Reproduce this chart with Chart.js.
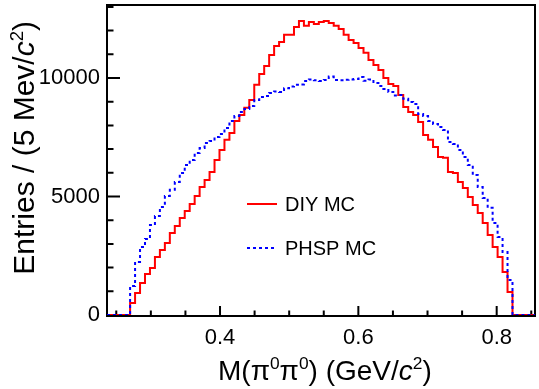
<!DOCTYPE html>
<html>
<head>
<meta charset="utf-8">
<script src="https://cdn.jsdelivr.net/npm/chart.js@4.4.0/dist/chart.umd.min.js"></script>
<style>
  html, body { margin: 0; padding: 0; background: #fff; }
</style>
</head>
<body>
<canvas id="chart" width="539" height="389"></canvas>
<script>
// binning of the M(pi0 pi0) histogram, GeV
const histLow = 0.270;
const binWidth = 0.00718;

// entries per bin
const diyMC = [
  510, 930, 1350, 1730, 1980, 2450, 2740, 3040, 3460, 3760,
  4090, 4390, 4680, 5020, 5400, 5700, 6030, 6540, 6960, 7390,
  7680, 8190, 8440, 8740, 9070, 9710, 10170, 10510, 10970, 11350,
  11520, 11820, 11820, 12150, 12410, 12200, 12360, 12280, 12360, 12410,
  12320, 12200, 12070, 11820, 11600, 11480, 11270, 11060, 10760, 10550,
  10340, 10000, 9750, 9660, 9280, 8780, 8570, 8440, 8140, 7600,
  7390, 7090, 6670, 6630, 6030, 5990, 5610, 5360, 4980, 4640,
  4300, 3880, 3380, 2870, 2450, 1810, 970
];
const phspMC = [
  1220, 2240, 2870, 3210, 3800, 4180, 4560, 5020, 5280, 5610,
  5990, 6330, 6540, 6840, 7050, 7260, 7340, 7510, 7640, 7890,
  8190, 8400, 8570, 8690, 8820, 9070, 9200, 9240, 9370, 9430,
  9410, 9570, 9640, 9710, 9730, 9870, 9940, 9900, 9870, 9920,
  10060, 9920, 9900, 9930, 9940, 9960, 10040, 9880, 9940, 9790,
  9660, 9540, 9410, 9260, 9280, 9120, 8990, 8900, 8480, 8400,
  8190, 8060, 7930, 7810, 7300, 7220, 6960, 6670, 6330, 5910,
  5400, 4940, 4520, 3880, 3290, 2660, 1480
];

const xTickLabels = [0.4, 0.6, 0.8];
const yTickLabels = [0, 5000, 10000];
const xRange = [0.2366, 0.8554];
const yRange = [0, 13080];

const font = "'Liberation Sans', Arial, Helvetica, sans-serif";

// step points: left edge of every bin, plus the empty ends
function histPoints(values) {
  const pts = [{ x: xRange[0], y: 0 }];
  values.forEach((v, i) => pts.push({ x: histLow + i * binWidth, y: v }));
  pts.push({ x: histLow + values.length * binWidth, y: 0 });
  pts.push({ x: xRange[1], y: 0 });
  return pts;
}

// draw text made of pieces (superscripts, italic)
function richWidth(ctx, parts, size) {
  let w = 0;
  parts.forEach(p => {
    ctx.font = (p.it ? 'italic ' : '') + (p.sup ? size * 0.62 : size) + 'px ' + font;
    w += ctx.measureText(p.t).width;
  });
  return w;
}
function drawRich(ctx, parts, x, y, size) {
  parts.forEach(p => {
    const s = p.sup ? size * 0.62 : size;
    ctx.font = (p.it ? 'italic ' : '') + s + 'px ' + font;
    ctx.fillText(p.t, x, p.sup ? y - size * 0.38 : y);
    x += ctx.measureText(p.t).width;
  });
}

const xTitle = [
  { t: 'M(\u03c0' }, { t: '0', sup: true }, { t: '\u03c0' }, { t: '0', sup: true },
  { t: ') (GeV/' }, { t: 'c', it: true }, { t: '2', sup: true }, { t: ')' }
];
const yTitle = [
  { t: 'Entries / (5 Mev/' }, { t: 'c', it: true }, { t: '2', sup: true }, { t: ')' }
];

const rootFrame = {
  id: 'rootFrame',
  beforeDatasetsDraw(chart) {
    const { ctx, chartArea: a, scales: { x, y } } = chart;
    ctx.save();
    ctx.strokeStyle = '#000';
    ctx.lineWidth = 2;
    ctx.strokeRect(a.left, a.top, a.right - a.left, a.bottom - a.top + 1);
    ctx.beginPath();
    for (let i = 5; i <= 17; i++) {
      const v = i * 0.05;
      const px = x.getPixelForValue(v);
      const major = xTickLabels.some(t => Math.abs(t - v) < 1e-6);
      ctx.moveTo(px, a.bottom);
      ctx.lineTo(px, a.bottom - (major ? 9 : 4.5));
    }
    for (let i = 0; i <= 13; i++) {
      const v = i * 1000;
      const py = y.getPixelForValue(v);
      const major = yTickLabels.includes(v);
      ctx.moveTo(a.left, py);
      ctx.lineTo(a.left + (major ? 13 : 6.5), py);
    }
    ctx.stroke();
    ctx.restore();
  },
  afterDraw(chart) {
    const { ctx } = chart;
    ctx.save();
    ctx.fillStyle = '#000';
    ctx.textBaseline = 'alphabetic';
    // x title
    drawRich(ctx, xTitle, 218, 380, 28);
    // y title, rotated
    ctx.translate(34, 21);
    ctx.rotate(-Math.PI / 2);
    const w = richWidth(ctx, yTitle, 30);
    drawRich(ctx, yTitle, -w, 0, 30);
    ctx.restore();

    // legend inside the frame
    ctx.save();
    const rows = [204, 248];
    chart.data.datasets.forEach((ds, i) => {
      ctx.strokeStyle = ds.borderColor;
      ctx.lineWidth = 2;
      ctx.setLineDash(ds.borderDash || []);
      ctx.beginPath();
      ctx.moveTo(247, rows[i]);
      ctx.lineTo(277, rows[i]);
      ctx.stroke();
      ctx.setLineDash([]);
      ctx.fillStyle = '#000';
      ctx.font = '20px ' + font;
      ctx.textBaseline = 'middle';
      ctx.fillText(ds.label, 285, rows[i] + 1);
    });
    ctx.restore();
  }
};

new Chart(document.getElementById('chart'), {
  type: 'line',
  data: {
    datasets: [
      {
        label: 'DIY MC',
        data: histPoints(diyMC),
        borderColor: '#ff0000',
        borderWidth: 2,
        stepped: 'before',
        pointRadius: 0,
        fill: false,
        order: 1
      },
      {
        label: 'PHSP MC',
        data: histPoints(phspMC),
        borderColor: '#0000ff',
        borderWidth: 2,
        borderDash: [3, 3],
        stepped: 'before',
        pointRadius: 0,
        fill: false,
        order: 0
      }
    ]
  },
  options: {
    responsive: false,
    animation: false,
    devicePixelRatio: 1,
    layout: { padding: { top: 5, right: 4, left: 0, bottom: 0 } },
    plugins: { legend: { display: false }, tooltip: { enabled: false } },
    scales: {
      x: {
        type: 'linear',
        min: xRange[0],
        max: xRange[1],
        grid: { display: false, drawTicks: false },
        border: { display: false },
        afterBuildTicks: s => { s.ticks = xTickLabels.map(v => ({ value: v })); },
        afterFit: s => { s.height = 74; s.paddingLeft = 0; s.paddingRight = 0; },
        ticks: {
          padding: 10,
          maxRotation: 0,
          color: '#000',
          font: { family: font, size: 22 },
          callback: v => v.toFixed(1)
        }
      },
      y: {
        min: yRange[0],
        max: yRange[1],
        grid: { display: false, drawTicks: false },
        border: { display: false },
        afterBuildTicks: s => { s.ticks = yTickLabels.map(v => ({ value: v })); },
        afterFit: s => { s.width = 107; s.paddingTop = 0; s.paddingBottom = 0; },
        ticks: {
          padding: 7,
          color: '#000',
          font: { family: font, size: 22 },
          callback: v => String(v)
        }
      }
    }
  },
  plugins: [rootFrame]
});
</script>
</body>
</html>
